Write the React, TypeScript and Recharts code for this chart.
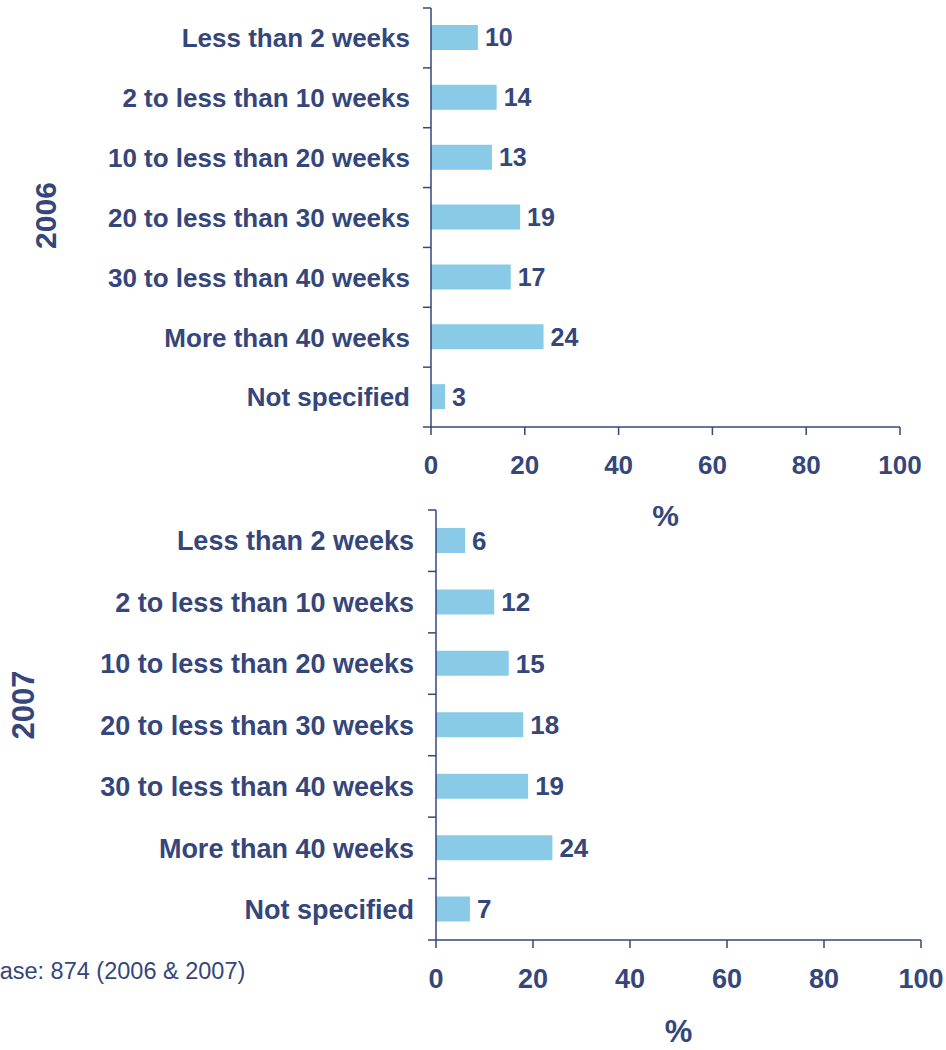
import React from 'react'
import { BarChart, Bar, XAxis, YAxis, LabelList } from 'recharts'

const categories = [
  'Less than 2 weeks',
  '2 to less than 10 weeks',
  '10 to less than 20 weeks',
  '20 to less than 30 weeks',
  '30 to less than 40 weeks',
  'More than 40 weeks',
  'Not specified',
]
const values2006 = [10, 14, 13, 19, 17, 24, 3]
const values2007 = [6, 12, 15, 18, 19, 24, 7]
const xTicks = [0, 20, 40, 60, 80, 100]

const NAVY = '#35467a'
const BAR = '#89cbe6'
const FONT = '"Liberation Sans", Arial, sans-serif'

const data2006 = categories.map((name, i) => ({ name, value: values2006[i] }))
const data2007 = categories.map((name, i) => ({ name, value: values2007[i] }))

// category tick: label plus a boundary tick mark between bands
const makeCatTick = (band: number, gap: number, fs: number) => (props: any) => {
  const { x, y, payload, index } = props
  return (
    <g>
      <line x1={x - 8} x2={x} y1={y - band / 2} y2={y - band / 2} stroke={NAVY} strokeWidth={1.5} />
      {index === categories.length - 1 && (
        <line x1={x - 8} x2={x} y1={y + band / 2} y2={y + band / 2} stroke={NAVY} strokeWidth={1.5} />
      )}
      <text x={x - gap} y={y} dy="0.36em" textAnchor="end" fill={NAVY} fontSize={fs} fontWeight="bold" fontFamily={FONT}>
        {payload.value}
      </text>
    </g>
  )
}

const yearLabel = (year: string, cxOff: number, cyOff: number, fs: number) => (props: any) => {
  const vb = props.viewBox
  const cx = vb.x + cxOff
  const cy = vb.y + vb.height / 2 + cyOff
  return (
    <text x={cx} y={cy} transform={`rotate(-90 ${cx} ${cy})`} textAnchor="middle" dominantBaseline="central"
      fill={NAVY} fontSize={fs} fontWeight="bold" fontFamily={FONT}>{year}</text>
  )
}

function Panel({ data, year, yearX, yearY, width, height, top, axisW, right, bottomAxisH, pctOffset, fs, gap }: any) {
  const plotH = height - top - bottomAxisH
  const band = plotH / categories.length
  return (
    <BarChart width={width} height={height} data={data} layout="vertical"
      margin={{ top, right, left: 0, bottom: 0 }} barSize={25}>
      <XAxis type="number" domain={[0, 100]} ticks={xTicks} height={bottomAxisH}
        axisLine={{ stroke: NAVY, strokeWidth: 1.5 }} tickLine={{ stroke: NAVY, strokeWidth: 1.5 }}
        tickSize={8} tickMargin={21}
        tick={{ fill: NAVY, fontSize: fs, fontWeight: 'bold', fontFamily: FONT }}
        label={{ value: '%', position: 'insideBottom', offset: pctOffset, fill: NAVY, fontSize: fs + 4, fontWeight: 'bold', fontFamily: FONT }} />
      <YAxis type="category" dataKey="name" width={axisW} interval={0}
        axisLine={{ stroke: NAVY, strokeWidth: 1.5 }} tickLine={false} tickSize={0} tickMargin={0}
        tick={makeCatTick(band, gap, fs)}
        label={{ position: 'insideLeft', content: yearLabel(year, yearX, yearY, fs + 4) }} />
      <Bar dataKey="value" fill={BAR} isAnimationActive={false}>
        <LabelList dataKey="value" position="right" offset={7} fill={NAVY} fontSize={fs - 1} fontWeight="bold" fontFamily={FONT} />
      </Bar>
    </BarChart>
  )
}

export default function App() {
  return (
    <div style={{ position: 'absolute', left: 0, top: 0, width: 946, height: 1050, background: '#fff', overflow: 'hidden' }}>
      <div style={{ position: 'absolute', left: 0, top: 0 }}>
        <Panel data={data2006} year="2006" yearX={45} yearY={-2} width={946} height={545} top={8} axisW={431} right={46}
          bottomAxisH={118} pctOffset={19} fs={26} gap={21} />
      </div>
      <div style={{ position: 'absolute', left: 0, top: 500 }}>
        <Panel data={data2007} year="2007" yearX={23} yearY={-20} width={946} height={550} top={10} axisW={436} right={25}
          bottomAxisH={110} pctOffset={8} fs={27} gap={22} />
      </div>
      <div style={{ position: 'absolute', left: -16, top: 960, fontFamily: FONT, fontSize: 23.5, lineHeight: 1, color: NAVY, whiteSpace: 'nowrap' }}>
        Base: 874 (2006 &amp; 2007)
      </div>
    </div>
  )
}
